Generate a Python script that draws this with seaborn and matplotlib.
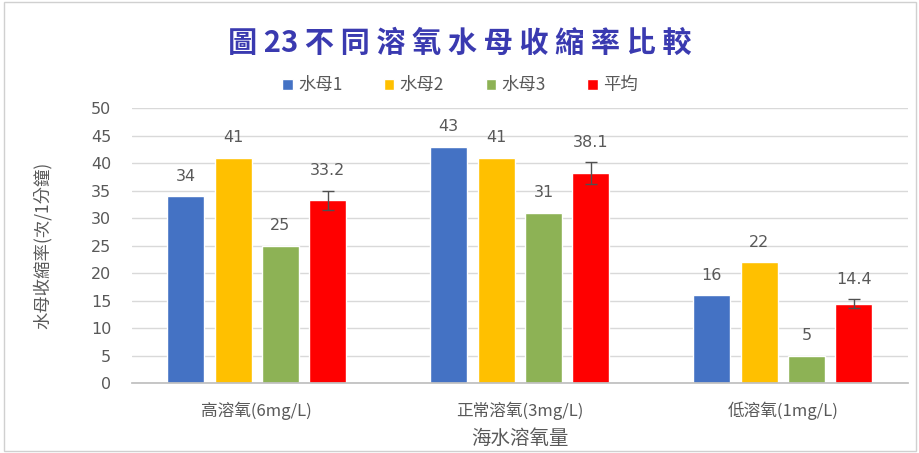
import matplotlib
matplotlib.use("Agg")
import matplotlib.pyplot as plt
import seaborn as sns
import pandas as pd
import numpy as np

categories = ["高溶氧(6mg/L)", "正常溶氧(3mg/L)", "低溶氧(1mg/L)"]
series_names = ["水母1", "水母2", "水母3", "平均"]
jelly1 = [34, 43, 16]
jelly2 = [41, 41, 22]
jelly3 = [25, 31, 5]
average = [33.2, 38.1, 14.4]
avg_err = [1.8, 2.0, 0.8]
value_labels = [["34", "43", "16"], ["41", "41", "22"], ["25", "31", "5"], ["33.2", "38.1", "14.4"]]
colors = ["#4472C4", "#FFC000", "#8DB255", "#FF0000"]

rows = []
for name, vals in zip(series_names, [jelly1, jelly2, jelly3, average]):
    for cat, v in zip(categories, vals):
        rows.append({"cat": cat, "series": name, "value": v})
df = pd.DataFrame(rows)

sns.set_theme(style="white")
plt.rcParams["font.family"] = ["Noto Sans CJK TC", "DejaVu Sans"]

fig = plt.figure(figsize=(9.2, 4.53), dpi=100)
ax = fig.add_axes([0.1435, 0.1545, 0.843, 0.607])

sns.barplot(data=df, x="cat", y="value", hue="series", order=categories,
            hue_order=series_names, palette=colors, width=0.72, gap=0.22,
            saturation=1, errorbar=None, ax=ax, legend=True)

# error bars on the average series and value labels above each bar
for i, (container, labels) in enumerate(zip(ax.containers, value_labels)):
    for j, (patch, lab) in enumerate(zip(container.patches, labels)):
        xc = patch.get_x() + patch.get_width() / 2
        h = patch.get_height()
        top = h
        if i == 3:
            ax.errorbar(xc, h, yerr=avg_err[j], color="#505050", capsize=4,
                        elinewidth=1, capthick=1)
            top = h + avg_err[j]
        ax.text(xc, max(h, top) + 2.2, lab, ha="center", va="bottom",
                fontsize=11.5, color="#595959", family="DejaVu Sans")

ax.set_ylim(0, 50)
ax.set_yticks(np.arange(0, 51, 5))
ax.yaxis.grid(True, color="#d9d9d9", linewidth=1)
ax.set_axisbelow(True)
for s in ["top", "right", "left"]:
    ax.spines[s].set_visible(False)
ax.spines["bottom"].set_color("#bfbfbf")
ax.tick_params(axis="y", length=0, labelsize=11.5, labelcolor="#595959", pad=15)
ax.tick_params(axis="x", length=0, labelsize=12, labelcolor="#595959", pad=13)
for t in ax.get_yticklabels():
    t.set_family("DejaVu Sans")
ax.set_xlabel("海水溶氧量", fontsize=14, color="#595959", labelpad=6)
ax.set_ylabel("水母收縮率(次/1分鐘)", fontsize=12.5, color="#595959", labelpad=28)

handles, labels = ax.get_legend_handles_labels()
ax.get_legend().remove()
fig.legend(handles, labels, loc="center", bbox_to_anchor=(0.5, 0.812), ncol=4,
           frameon=False, fontsize=12.5, handlelength=0.6, handleheight=0.6,
           handletextpad=0.3, columnspacing=2.4, labelcolor="#595959")

fig.text(0.5, 0.905, "圖 23 不 同 溶 氧 水 母 收 縮 率 比 較", ha="center", va="center",
         fontsize=21, fontweight="semibold", color="#3a3ab0")

fig.patches.append(plt.Rectangle((0.004, 0.004), 0.992, 0.992, transform=fig.transFigure,
                                 fill=False, edgecolor="#d0d0d0", linewidth=1))

fig.savefig("out.png", dpi=100, facecolor="white")
